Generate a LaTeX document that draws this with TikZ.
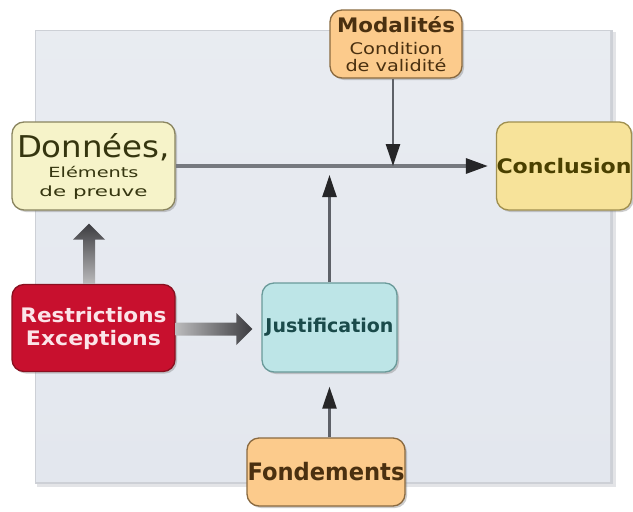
\documentclass[tikz,border=0pt]{standalone}
\usepackage{fontspec}
\usepackage{graphicx}
\setmainfont{DejaVu Sans}
\usetikzlibrary{shadows,calc,arrows.meta}
\definecolor{panel}{HTML}{E3E7EE}
\definecolor{panelshadow}{HTML}{B8BCC4}
\definecolor{donfill}{HTML}{F6F3C9}
\definecolor{donline}{HTML}{8A8560}
\definecolor{donText}{HTML}{35350F}
\definecolor{modfill}{HTML}{FCCB8C}
\definecolor{modline}{HTML}{8A6A40}
\definecolor{modText}{HTML}{4A3010}
\definecolor{confill}{HTML}{F7E39A}
\definecolor{conline}{HTML}{A09050}
\definecolor{conText}{HTML}{4A4000}
\definecolor{resfill}{HTML}{C8102E}
\definecolor{resline}{HTML}{8A1020}
\definecolor{resText}{HTML}{FBE4E8}
\definecolor{jusfill}{HTML}{BDE5E7}
\definecolor{jusline}{HTML}{6A9A9A}
\definecolor{jusText}{HTML}{1A4A4A}
\definecolor{arrowgray}{HTML}{3C3C40}
\definecolor{linegray}{HTML}{5E6168}
\definecolor{tipcolor}{HTML}{262628}
\newcommand{\fitline}[3]{\resizebox{#1pt}{\height}{\fontsize{#2}{#2}\selectfont #3}}
\begin{document}
\begin{tikzpicture}[x=1pt,y=-1pt,
  box/.style={rounded corners=12pt, line width=1.3pt, align=center, inner sep=0pt,
    drop shadow={shadow xshift=2pt, shadow yshift=-2pt, opacity=0.4}},
  thin arrow/.style={draw=linegray, line width=2.5pt, -{Triangle[length=22pt,width=14pt,color=tipcolor]}},
  main arrow/.style={draw=linegray!85, line width=3.2pt, -{Triangle[length=22pt,width=15pt,color=tipcolor]}}
]
\useasboundingbox (0,0) rectangle (633,512);
\fill[white] (0,0) rectangle (633,512);
% panel with soft shadow
\fill[panelshadow!40] (37,32) rectangle (616,487);
\fill[panelshadow!70] (35,30) rectangle (613,484);
\shade[top color=panel!80, bottom color=panel] (36,31) rectangle (610,481);

\node[box, draw=modline, fill=modfill, text=modText, minimum width=132pt, minimum height=68pt,
  font=\fontsize{16}{17}\selectfont]
  (mod) at (396,44) {\fitline{118}{20}{\bfseries Modalités}\\[5pt]\fitline{93}{16}{Condition}\\\fitline{101}{16}{de validité}};
\node[box, draw=donline, fill=donfill, text=donText, minimum width=163pt, minimum height=88pt,
  font=\fontsize{14}{16}\selectfont]
  (don) at (93.5,166) {\fitline{153}{30}{Données,}\\[4pt]\fitline{90}{14}{Eléments}\\[3pt]\fitline{108}{14}{de preuve}};
\node[box, draw=conline, fill=confill, text=conText, minimum width=132pt, minimum height=88pt]
  (con) at (564,166) {\raisebox{-4pt}{\fitline{135}{20}{\bfseries Conclusion}}};
\node[box, draw=resline, fill=resfill, text=resText, minimum width=163pt, minimum height=87pt,
  font=\fontsize{20}{23}\selectfont]
  (res) at (93.5,328) {\fitline{146}{20}{\bfseries Restrictions}\\\fitline{135}{20}{\bfseries Exceptions}};
\node[box, draw=jusline, fill=jusfill, text=jusText, minimum width=135pt, minimum height=89pt]
  (jus) at (329.5,327.5) {\fitline{128}{19}{\bfseries Justification}};
\node[box, draw=modline, fill=modfill, text=modText, minimum width=158pt, minimum height=68pt]
  (fon) at (326,472) {\fitline{157}{24}{\bfseries Fondements}};

% main horizontal arrow
\coordinate (mainend) at ($(con.west)+(-8,0)$);
\draw[main arrow] (don.east) -- (mainend);
% Modalités down to main line
\coordinate (modx) at (393,0);
\coordinate (modend) at (modx |- don.east);
\draw[thin arrow] (modx |- mod.south) -- (modend);
% Justification up to main line
\coordinate (jusend) at ($(jus.north |- don.east)+(0,9)$);
\draw[thin arrow] (jus.north) -- (jusend);
% Fondements up to Justification
\coordinate (fonend) at ($(jus.south)+(0,14)$);
\draw[thin arrow] (fon.north -| jus.south) -- (fonend);

% thick shaded arrows from Restrictions
\coordinate (upx) at (89,0);
\coordinate (upbase) at (upx |- res.north);
\coordinate (uptip) at ($(upx |- don.south)+(0,13)$);
\shade[top color=arrowgray, bottom color=arrowgray!35]
  ($(upbase)+(-6,0)$) -- ($(uptip)+(-6,16)$) -- ($(uptip)+(-16,16)$) --
  (uptip) -- ($(uptip)+(16,16)$) -- ($(uptip)+(6,16)$) --
  ($(upbase)+(6,0)$) -- cycle;
\coordinate (rtbase) at ($(res.east)+(0,1)$);
\coordinate (rttip) at ($(jus.west |- rtbase)+(-9,0)$);
\shade[left color=arrowgray!35, right color=arrowgray]
  ($(rtbase)+(0,-6.5)$) -- ($(rttip)+(-16,-6.5)$) -- ($(rttip)+(-16,-16)$) --
  (rttip) -- ($(rttip)+(-16,16)$) -- ($(rttip)+(-16,6.5)$) --
  ($(rtbase)+(0,6.5)$) -- cycle;
\end{tikzpicture}
\end{document}
